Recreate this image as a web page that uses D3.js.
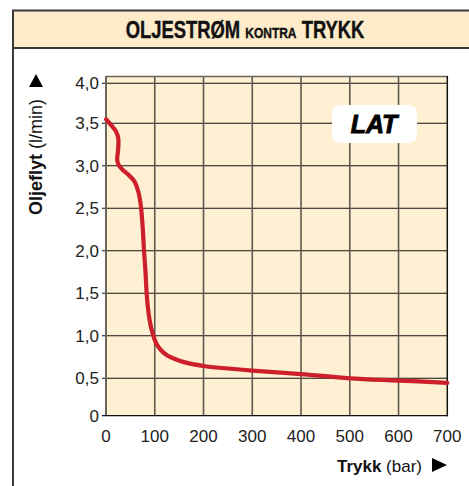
<!DOCTYPE html>
<html>
<head>
<meta charset="utf-8">
<script src="https://cdn.jsdelivr.net/npm/d3@7"></script>
<style>
  html, body { margin: 0; padding: 0; background: #fff; }
  svg { display: block; }
</style>
</head>
<body>
<div id="chart"></div>
<script>
// trykk (bar) og oljeflyt (l/min), lest av bildet
const pressure = [0, 12, 20, 25, 25, 23, 26, 33, 45, 58, 66, 71, 75, 78, 81, 84, 89, 96, 104, 113, 125, 140, 160, 200, 250, 300, 400, 500, 600, 700];
const flow = [3.55, 3.47, 3.41, 3.33, 3.2, 3.07, 3.01, 2.96, 2.9, 2.82, 2.7, 2.55, 2.3, 2.0, 1.75, 1.45, 1.2, 1.02, 0.9, 0.83, 0.77, 0.73, 0.69, 0.645, 0.615, 0.59, 0.55, 0.5, 0.47, 0.44];

const xTicks = [0, 100, 200, 300, 400, 500, 600, 700];
const yTicks = [0, 0.5, 1.0, 1.5, 2.0, 2.5, 3.0, 3.5, 4.0];

const W = 469, H = 486;
const svg = d3.select("#chart").append("svg")
  .attr("width", W).attr("height", H)
  .attr("viewBox", `0 0 ${W} ${H}`);

const font = "'Liberation Sans', Arial, sans-serif";

// ramme + tittelfelt
svg.append("rect").attr("x", 12).attr("y", 10).attr("width", 470).attr("height", 38)
  .attr("fill", "#fdebc9");
svg.append("path")
  .attr("d", "M13,490 V10.5 H480 M13,48 H480")
  .attr("fill", "none").attr("stroke", "#3a3a3a").attr("stroke-width", 2);

// smal, fet tittel (ingen condensed-font installert, så den skaleres)
const title = svg.append("text").attr("transform", "translate(245,38) scale(0.8,1)")
  .attr("text-anchor", "middle").attr("font-family", font)
  .attr("font-weight", "bold").attr("fill", "#111")
  .attr("stroke", "#111").attr("stroke-width", 0.4);
title.append("tspan").attr("font-size", 23).text("OLJESTRØM ");
title.append("tspan").attr("font-size", 15).text("KONTRA");
title.append("tspan").attr("font-size", 23).text(" TRYKK");

// skalaer (y-aksen i originalen er ikke helt jevn)
const x = d3.scaleLinear().domain([0, 700]).range([106, 447.3]);
const y = d3.scaleLinear().domain([0, 0.5, 3.5, 4]).range([415.7, 378.3, 123.3, 83.3]);

const plotTop = 76;
svg.append("rect").attr("x", x(0)).attr("y", plotTop)
  .attr("width", x(700) - x(0)).attr("height", y(0) - plotTop)
  .attr("fill", "#fff0d3");

const g = svg.append("g");

// horisontale rutenettlinjer
g.selectAll("line.h").data(yTicks.filter(d => d > 0)).join("line")
  .attr("x1", x(0) - 4).attr("x2", x(700))
  .attr("y1", d => y(d)).attr("y2", d => y(d))
  .attr("stroke", "#111").attr("stroke-width", 1.1);

// vertikale rutenettlinjer
g.selectAll("line.v").data(xTicks.filter(d => d > 0 && d < 700)).join("line")
  .attr("x1", d => x(d)).attr("x2", d => x(d))
  .attr("y1", plotTop).attr("y2", y(0))
  .attr("stroke", "#5f5a52").attr("stroke-width", 1.6);

// kant
g.append("line").attr("x1", x(0)).attr("x2", x(700)).attr("y1", plotTop + 0.5).attr("y2", plotTop + 0.5)
  .attr("stroke", "#6b665c").attr("stroke-width", 1.5);
g.append("line").attr("x1", x(0)).attr("x2", x(0)).attr("y1", plotTop).attr("y2", y(0))
  .attr("stroke", "#6b665c").attr("stroke-width", 2);
g.append("line").attr("x1", x(700)).attr("x2", x(700)).attr("y1", plotTop).attr("y2", y(0) + 0.5)
  .attr("stroke", "#111").attr("stroke-width", 1.5);
g.append("line").attr("x1", x(0) - 4).attr("x2", x(700) + 0.7).attr("y1", y(0)).attr("y2", y(0))
  .attr("stroke", "#111").attr("stroke-width", 1.2);

// LAT-merke
svg.append("rect").attr("x", 332).attr("y", 105).attr("width", 85).attr("height", 38)
  .attr("rx", 8).attr("fill", "#fff");
svg.append("text").attr("x", 374).attr("y", 133).attr("text-anchor", "middle")
  .attr("font-family", font).attr("font-weight", "bold").attr("font-style", "italic")
  .attr("font-size", 25).attr("fill", "#000")
  .attr("stroke", "#000").attr("stroke-width", 0.9).text("LAT");

// kurven
const pts = pressure.map((p, i) => [p, flow[i]]);
const line = d3.line().x(d => x(d[0])).y(d => y(d[1])).curve(d3.curveCatmullRom.alpha(0.5));
svg.append("path").datum(pts).attr("d", line)
  .attr("fill", "none").attr("stroke", "#cc1f2b").attr("stroke-width", 4.2)
  .attr("stroke-linecap", "round").attr("stroke-linejoin", "round");

// tekst på aksene
svg.selectAll("text.yl").data(yTicks).join("text")
  .attr("x", 99).attr("y", d => y(d) + 6).attr("text-anchor", "end")
  .attr("font-family", font).attr("font-size", 17).attr("fill", "#222")
  .text(d => d === 0 ? "0" : d3.format(".1f")(d).replace(".", ","));

svg.selectAll("text.xl").data(xTicks).join("text")
  .attr("x", d => x(d)).attr("y", 442).attr("text-anchor", "middle")
  .attr("font-family", font).attr("font-size", 17).attr("fill", "#222")
  .text(d => d);

const xt = svg.append("text").attr("x", 422).attr("y", 472).attr("text-anchor", "end")
  .attr("font-family", font).attr("font-size", 17).attr("fill", "#111");
xt.append("tspan").attr("font-weight", "bold").text("Trykk");
xt.append("tspan").text(" (bar)");
svg.append("path").attr("d", "M432,458 L447,465 L432,472 Z").attr("fill", "#000");

const yt = svg.append("text").attr("transform", "translate(42,157) rotate(-90)")
  .attr("text-anchor", "middle").attr("font-family", font).attr("font-size", 18).attr("fill", "#111");
yt.append("tspan").attr("font-weight", "bold").text("Oljeflyt");
yt.append("tspan").text(" (l/min)");
svg.append("path").attr("d", "M29,87 L36,74 L43,87 Z").attr("fill", "#000");
</script>
</body>
</html>
